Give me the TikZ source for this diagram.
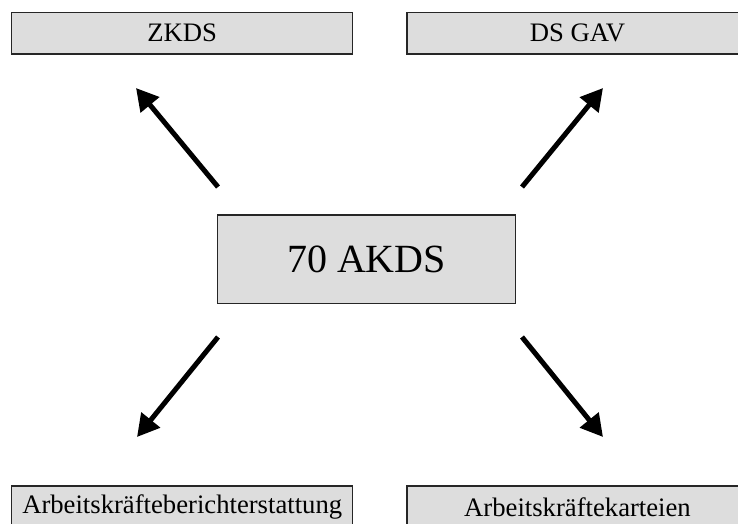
\documentclass[tikz,border=0pt]{standalone}
\usepackage{fontspec}
\setmainfont{Liberation Serif}
\usetikzlibrary{arrows.meta}
\definecolor{boxgray}{HTML}{DDDDDD}
\begin{document}
\begin{tikzpicture}[x=0.75pt,y=-0.75pt,
  box/.style={draw=black!85,line width=0.9pt,fill=boxgray,inner sep=0pt,
    minimum width=255.75pt,minimum height=31.3pt,font=\fontsize{20}{24}\selectfont},
  bigbox/.style={draw=black!85,line width=0.9pt,fill=boxgray,inner sep=0pt,
    minimum width=223.8pt,minimum height=66.2pt,font=\fontsize{30}{36}\selectfont},
  arr/.style={line width=3.75pt,-{Triangle[length=16.5pt,width=17.5pt]}}]
\useasboundingbox (0,0) rectangle (738,524);
\clip (0,0) rectangle (738,524);
\node[box] (zkds) at (182.2,33.2) {ZKDS};
\node[box] (dsgav) at (577.5,33.2) {DS GAV};
\node[bigbox] (akds) at (366.5,259.2) {70 AKDS};
\node[box] (abe) at (182.2,506.9) {Arbeitskräfteberichterstattung};
\node[box] (akk) at (577.5,506.9) {Arbeitskräftekarteien};
\coordinate (t1) at (218,187); \coordinate (h1) at (136,88);
\coordinate (t2) at (522,187); \coordinate (h2) at (603,88);
\coordinate (t3) at (218,337); \coordinate (h3) at (137,437);
\coordinate (t4) at (522,337); \coordinate (h4) at (603,437);
\draw[arr] (t1) -- (h1);
\draw[arr] (t2) -- (h2);
\draw[arr] (t3) -- (h3);
\draw[arr] (t4) -- (h4);
\end{tikzpicture}
\end{document}
